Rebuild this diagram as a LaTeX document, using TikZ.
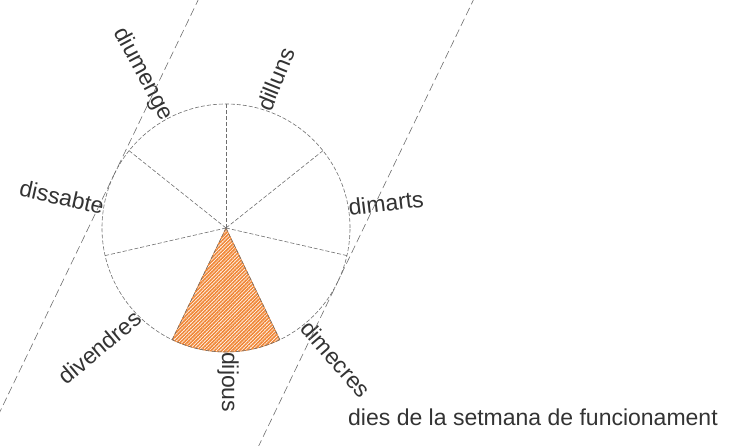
\documentclass[tikz,border=0pt]{standalone}
\usepackage{fontspec}
\setmainfont{Liberation Sans}
\usetikzlibrary{patterns.meta}
\definecolor{linegray}{RGB}{110,110,110}
\definecolor{textgray}{RGB}{51,51,51}
\definecolor{hatchorange}{RGB}{240,135,55}

\begin{document}
\begin{tikzpicture}[x=1pt, y=1pt,
  guide/.style={linegray, line width=0.6pt, dash pattern=on 4pt off 2pt},
  tangent/.style={linegray, line width=0.6pt, dash pattern=on 8pt off 4pt},
  daylabel/.style={text=textgray, font=\fontsize{23}{27}\selectfont, inner sep=2pt}]
\useasboundingbox (-226,-217) rectangle (513,228);
\clip (-226,-217) rectangle (513,228);

% the hatched day
\filldraw[draw=hatchorange, line width=0.6pt,
  pattern={Lines[angle=45,distance=2.5pt,line width=1.7pt]}, pattern color=hatchorange]
  (0,0) -- (-115.71:124) arc[start angle=-115.71, end angle=-64.29, radius=124] -- cycle;

% draw the circle and the spokes
\coordinate (c) at (0,0);
\draw[guide] (c) circle (124);
\foreach \a in {0,...,6}
\draw[guide] (c) -- ({90-\a*360/7}:124);

% days: name / place on the circle / turn / anchor
\foreach \name/\a/\r/\anc in {
dilluns/72.5/68/west,
dimarts/9.4/7/west,
dimecres/-50.4/-49/west,
dijous/-89/-90/west,
divendres/-135.3/40/east,
dissabte/170.2/-12.7/east,
diumenge/118.6/-62/east}
\node[daylabel, anchor=\anc, rotate=\r] (\name) at (\a:122) {\name};

% the two tangent lines
\coordinate (t1) at (154.29:124);
\coordinate (t2) at (-25.71:124);
\draw[tangent] (t1) ++(64.29:400) -- ++(244.29:900);
\draw[tangent] (t2) ++(64.29:400) -- ++(244.29:900);

% caption
\node[daylabel, inner sep=0pt, anchor=base west] (caption) at (122,-197)
  {dies de la setmana de funcionament};
\end{tikzpicture}
\end{document}
